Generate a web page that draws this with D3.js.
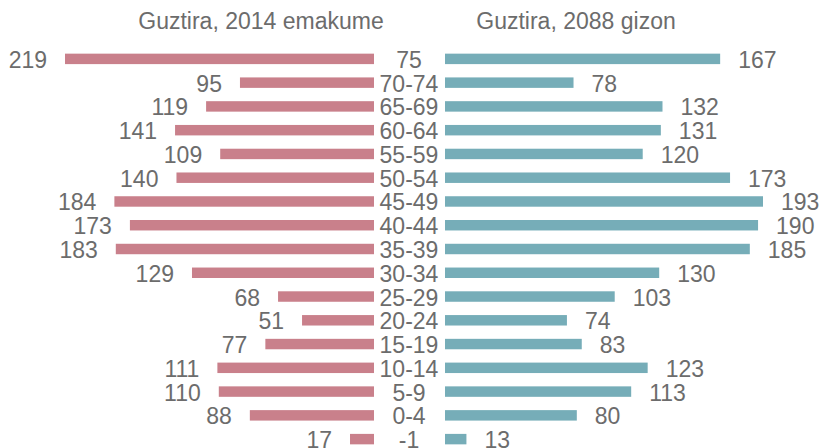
<!DOCTYPE html>
<html><head><meta charset="utf-8">
<script src="https://cdn.jsdelivr.net/npm/d3@7"></script>
<style>body{margin:0;background:#fff}svg{display:block}text{font-family:"Liberation Sans",Arial,sans-serif;fill:#6c6c6c}</style>
</head><body><svg id="c" width="819" height="448"></svg>
<script>
const categories = ["75","70-74","65-69","60-64","55-59","50-54","45-49","40-44","35-39","30-34","25-29","20-24","15-19","10-14","5-9","0-4","-1"];
const women = [219,95,119,141,109,140,184,173,183,129,68,51,77,111,110,88,17];
const men = [167,78,132,131,120,173,193,190,185,130,103,74,83,123,113,80,13];
const titles = ["Guztira, 2014 emakume","Guztira, 2088 gizon"];

const svg = d3.select("#c");
const y = d3.scaleBand().domain(categories).range([47, 451]).paddingInner(0.56).paddingOuter(0.28);
const xL = d3.scaleLinear().domain([0, 219]).range([374, 65]);
const xR = d3.scaleLinear().domain([0, 193]).range([445, 763]);
const fs = 23;

svg.selectAll(".bl").data(categories).join("rect")
  .attr("x", (d,i)=>xL(women[i])).attr("y", d=>y(d))
  .attr("width", (d,i)=>xL(0)-xL(women[i])).attr("height", y.bandwidth())
  .attr("fill", "#c9808b");
svg.selectAll(".br").data(categories).join("rect")
  .attr("x", xR(0)).attr("y", d=>y(d))
  .attr("width", (d,i)=>xR(men[i])-xR(0)).attr("height", y.bandwidth())
  .attr("fill", "#76adb8");

const cy = d => y(d) + y.bandwidth()/2 + 9;
svg.selectAll(".vl").data(categories).join("text")
  .attr("x", (d,i)=>xL(women[i]) - 18).attr("y", cy)
  .attr("text-anchor","end").attr("font-size", fs).text((d,i)=>women[i]);
svg.selectAll(".vr").data(categories).join("text")
  .attr("x", (d,i)=>xR(men[i]) + 18).attr("y", cy)
  .attr("text-anchor","start").attr("font-size", fs).text((d,i)=>men[i]);
svg.selectAll(".cl").data(categories).join("text")
  .attr("x", 409).attr("y", cy)
  .attr("text-anchor","middle").attr("font-size", fs).text(d=>d);

svg.append("text").attr("x", 261).attr("y", 29).attr("text-anchor","middle").attr("font-size", fs).text(titles[0]);
svg.append("text").attr("x", 576).attr("y", 29).attr("text-anchor","middle").attr("font-size", fs).text(titles[1]);
</script></body></html>
